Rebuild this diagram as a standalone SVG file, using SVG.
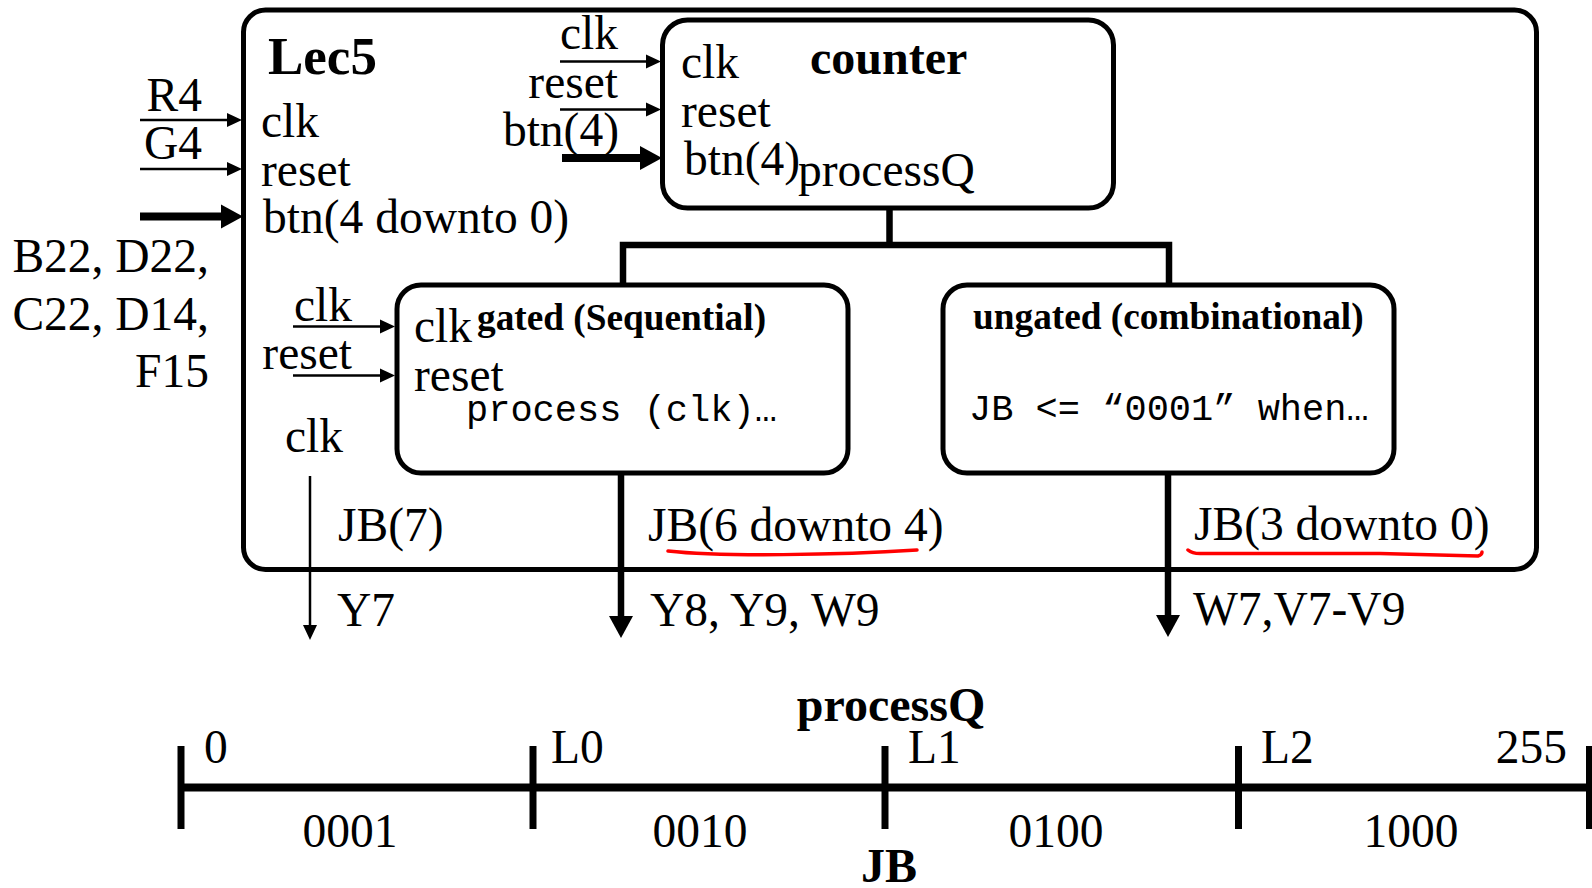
<svg xmlns="http://www.w3.org/2000/svg" width="1592" height="888" viewBox="0 0 1592 888">
  <style>
    .box { fill: none; stroke: #000; stroke-width: 5; }
    .t { font-family: "Liberation Serif", "Times New Roman", serif; font-size: 47.5px; fill: #000; }
    .b { font-family: "Liberation Serif", "Times New Roman", serif; font-weight: bold; fill: #000; }
    .m { font-family: "Liberation Mono", "Courier New", monospace; font-size: 37px; fill: #000; }
    .end { text-anchor: end; }
    .mid { text-anchor: middle; }
    .thin { stroke: #000; stroke-width: 2.5; fill: none; }
    .thick { stroke: #000; stroke-width: 8; fill: none; }
    .bus { stroke: #000; stroke-width: 6.5; fill: none; stroke-linejoin: miter; }
    .mark { stroke: #ff0000; stroke-width: 3.5; fill: none; stroke-linecap: round; }
  </style>
  <defs>
    <marker id="ahThin" markerUnits="userSpaceOnUse" markerWidth="16" markerHeight="16" refX="0" refY="8" orient="auto" overflow="visible">
      <path d="M0,1 L15,8 L0,15 z" fill="#000"/>
    </marker>
    <marker id="ahThick" markerUnits="userSpaceOnUse" markerWidth="24" markerHeight="26" refX="0" refY="12" orient="auto" overflow="visible">
      <path d="M0,0 L22,12 L0,24 z" fill="#000"/>
    </marker>
  </defs>

  <rect width="1592" height="888" fill="#fff"/>

  <!-- top-level entity -->
  <g id="lec5">
    <rect class="box" x="243.5" y="10" width="1293" height="559.5" rx="22" ry="22"/>
    <text class="b" x="268" y="74" font-size="53">Lec5</text>
    <text class="t" x="261" y="137">clk</text>
    <text class="t" x="261" y="186">reset</text>
    <text class="t" x="263" y="233">btn(4 downto 0)</text>
  </g>

  <!-- board pins -->
  <g id="pins-in">
    <text class="t end" x="202" y="111">R4</text>
    <text class="t end" x="202" y="159">G4</text>
    <text class="t end" x="209" y="272">B22, D22,</text>
    <text class="t end" x="209" y="330">C22, D14,</text>
    <text class="t end" x="209" y="387">F15</text>
  </g>

  <!-- counter process -->
  <g id="counter">
    <rect class="box" x="662.5" y="20" width="451" height="188" rx="25" ry="25"/>
    <text class="b" x="810" y="74" font-size="48">counter</text>
    <text class="t" x="681" y="78">clk</text>
    <text class="t" x="681" y="127">reset</text>
    <text class="t" x="684" y="175">btn(4)</text>
    <text class="t" x="798" y="186">processQ</text>
    <text class="t end" x="618" y="49">clk</text>
    <text class="t end" x="618" y="98">reset</text>
    <text class="t end" x="619" y="146">btn(4)</text>
  </g>

  <!-- gated (sequential) process -->
  <g id="gated">
    <rect class="box" x="397" y="285" width="451" height="188" rx="24" ry="24"/>
    <text class="t" x="414" y="342">clk</text>
    <text class="b" x="477" y="330" font-size="37.3">gated (Sequential)</text>
    <text class="t" x="414" y="391">reset</text>
    <text class="m" x="466" y="421">process (clk)…</text>
    <text class="t end" x="352" y="321">clk</text>
    <text class="t end" x="352" y="369">reset</text>
    <text class="t" x="285" y="452">clk</text>
  </g>

  <!-- ungated (combinational) process -->
  <g id="ungated">
    <rect class="box" x="943" y="285" width="451" height="188" rx="24" ry="24"/>
    <text class="b" x="973" y="329" font-size="37.3">ungated (combinational)</text>
    <text class="m" x="969" y="420">JB &lt;= “0001” when…</text>
  </g>

  <!-- output ports -->
  <g id="outputs">
    <text class="t" x="338" y="541">JB(7)</text>
    <text class="t" x="648" y="541">JB(6 downto 4)</text>
    <text class="t" x="1194" y="540">JB(3 downto 0)</text>
    <text class="t" x="337" y="626">Y7</text>
    <text class="t" x="650" y="626">Y8, Y9, W9</text>
    <text class="t" x="1193" y="625">W7,V7-V9</text>
    <path class="mark" d="M668,551 C720,557 840,555 917,550"/>
    <path class="mark" d="M1188,550 Q1192,553.5 1200,553.5 L1380,553.5 Q1470,556 1478,556 Q1482,555 1482,552"/>
  </g>

  <!-- signal wiring -->
  <g id="connectors">
    <line class="thin" x1="140" y1="120" x2="227" y2="120" marker-end="url(#ahThin)"/>
    <line class="thin" x1="140" y1="169" x2="227" y2="169" marker-end="url(#ahThin)"/>
    <line class="thick" x1="140" y1="216.5" x2="221" y2="216.5" marker-end="url(#ahThick)"/>
    <line class="thin" x1="560" y1="61.5" x2="646" y2="61.5" marker-end="url(#ahThin)"/>
    <line class="thin" x1="560" y1="109.5" x2="646" y2="109.5" marker-end="url(#ahThin)"/>
    <line class="thick" x1="562" y1="158" x2="640" y2="158" marker-end="url(#ahThick)"/>
    <line class="thin" x1="293" y1="326.5" x2="380" y2="326.5" marker-end="url(#ahThin)"/>
    <line class="thin" x1="293" y1="375.5" x2="380" y2="375.5" marker-end="url(#ahThin)"/>
    <path class="bus" d="M889.5,208 V245 M623,285 V245 H1169 V285"/>
    <line class="thin" x1="310" y1="476" x2="310" y2="625" marker-end="url(#ahThin)"/>
    <line class="bus" x1="621" y1="473" x2="621" y2="616" marker-end="url(#ahThick)"/>
    <line class="bus" x1="1168" y1="473" x2="1168" y2="615" marker-end="url(#ahThick)"/>
  </g>

  <!-- processQ range to JB mapping -->
  <g id="range">
    <line x1="180" y1="787.5" x2="1592" y2="787.5" stroke="#000" stroke-width="8"/>
    <g stroke="#000" stroke-width="7">
      <line x1="181" y1="746" x2="181" y2="829"/>
      <line x1="533" y1="746" x2="533" y2="829"/>
      <line x1="885" y1="746" x2="885" y2="829"/>
      <line x1="1238.5" y1="746" x2="1238.5" y2="829"/>
      <line x1="1589.5" y1="746" x2="1589.5" y2="829"/>
    </g>
    <text class="t" x="204" y="763">0</text>
    <text class="t" x="551" y="763">L0</text>
    <text class="t" x="908" y="763">L1</text>
    <text class="t" x="1261" y="763">L2</text>
    <text class="t end" x="1567" y="763">255</text>
    <text class="t mid" x="350" y="847">0001</text>
    <text class="t mid" x="700" y="847">0010</text>
    <text class="t mid" x="1056" y="847">0100</text>
    <text class="t mid" x="1411" y="847">1000</text>
    <text class="b mid" x="891" y="721" font-size="48">processQ</text>
    <text class="b mid" x="889" y="882" font-size="48">JB</text>
  </g>
</svg>
